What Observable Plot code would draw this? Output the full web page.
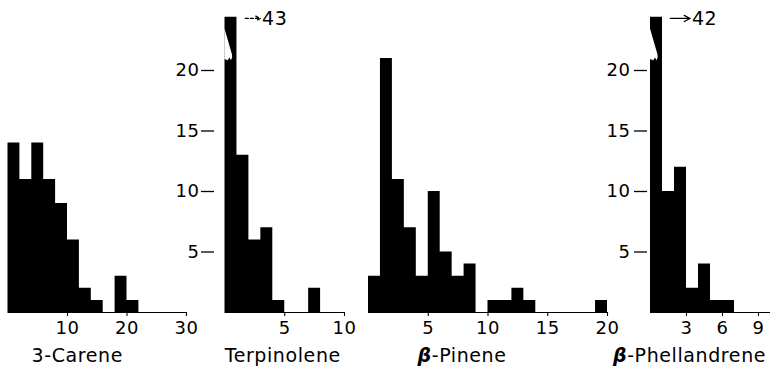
<!DOCTYPE html>
<html><head><meta charset="utf-8">
<script src="https://cdn.jsdelivr.net/npm/d3@7"></script>
<script src="https://cdn.jsdelivr.net/npm/@observablehq/plot@0.6"></script>
<style>
body{margin:0;background:#fff}
#wrap{position:relative;width:773px;height:373px;overflow:hidden;background:#fff}
#wrap svg{position:absolute;left:0;top:0;background:transparent}
</style></head><body><div id="wrap"></div>
<script>
// ---- data (counts per bin, bins start at 0) ----
const careneCounts = [14, 11, 14, 11, 9, 6, 2, 1, 0, 3, 1];
const terpinoleneCounts = [43, 13, 6, 7, 1, 0, 0, 2];
const pineneCounts = [3, 21, 11, 7, 3, 10, 5, 3, 4, 0, 1, 1, 2, 1, 0, 0, 0, 0, 0, 1];
const phellandreneCounts = [42, 10, 12, 2, 4, 1, 1];
const binWidths = [2, 1, 1, 1];
const panelNames = ["3-Carene", "Terpinolene", "β-Pinene", "β-Phellandrene"];
const xDomains = [[0, 30], [0, 10], [0, 20], [0, 10]];
const xTickValues = [[10, 20, 30], [5, 10], [5, 10, 15, 20], [3, 6, 9]];
const yTickValues = [5, 10, 15, 20];
const yTop = 24.4;

// ---- layout / style ----
const W = 773, H = 373, baseY = 312, pxPerUnit = 12.1;
const layout = [
  {left: 7.5, right: 186, yAxis: false, nameDx: -20},
  {left: 224.5, right: 344, yAxis: true, yDx: -10.5, yPad: 2, nameDx: -2},
  {left: 368, right: 607, yAxis: false, nameDx: -26},
  {left: 650, right: 770, yAxis: true, yDx: -3, yPad: 4, nameDx: -21}
];
const allCounts = [careneCounts, terpinoleneCounts, pineneCounts, phellandreneCounts];
// broken bars (count off scale) with arrow annotation
const breaks = [
  {panel: 1, label: "43", ax1: 1.7, ax2: 2.95, dash: "3,2"},
  {panel: 3, label: "42", ax1: 1.65, ax2: 3.3, dash: null}
];
const breakShape = [[-0.05, 23.5], [0.58, 21.35], [0.6, 21.1], [0.5, 20.85], [0.38, 21.08], [0.22, 20.85], [-0.05, 20.95]];

const wrap = document.getElementById("wrap");
allCounts.forEach((counts, i) => {
  const L = layout[i];
  const bw = binWidths[i];
  const steps = counts.map((c, k) => ({x: k * bw, y: Math.min(c, yTop)}));
  steps.push({x: counts.length * bw, y: Math.min(counts[counts.length - 1], yTop)});
  const marks = [
    Plot.areaY(steps, {x: "x", y: "y", curve: "step-after", fill: "black"}),
    Plot.ruleY([0], {stroke: "black", strokeWidth: 1.1}),
    Plot.axisX({ticks: xTickValues[i], tickSize: 4, tickPadding: 5, tickFormat: d => String(d), fontSize: 18, strokeWidth: 1.1, label: null}),
    Plot.text([panelNames[i]], {frameAnchor: "bottom", text: d => d, dx: L.nameDx, dy: 36, lineAnchor: "top", fontSize: 19})
  ];
  if (L.yAxis) {
    marks.push(Plot.axisY({ticks: yTickValues, tickSize: 13, tickPadding: L.yPad, dx: L.yDx, fontSize: 18, strokeWidth: 1.3, label: null, tickFormat: d => String(d)}));
  } else {
    marks.push(Plot.axisY({ticks: [], label: null}));
  }
  breaks.filter(b => b.panel === i).forEach(b => {
    const pts = breakShape.map(([fx, y]) => ({x: fx * bw, y}));
    marks.push(Plot.line(pts, {x: "x", y: "y", fill: "white", stroke: "none"}));
    marks.push(Plot.arrow([b], {x1: "ax1", x2: "ax2", y1: yTop - 0.1, y2: yTop - 0.1, stroke: "black", strokeWidth: 1.3, headLength: 8, headAngle: 55, strokeDasharray: b.dash}));
    marks.push(Plot.text([b], {x: d => d.ax2 + 0.15, y: yTop - 0.1, text: "label", textAnchor: "start", fontSize: 19}));
  });
  const chart = Plot.plot({
    width: W, height: H,
    marginLeft: L.left, marginRight: W - L.right,
    marginTop: baseY - yTop * pxPerUnit, marginBottom: H - baseY,
    x: {domain: xDomains[i]},
    y: {domain: [0, yTop]},
    style: {fontFamily: "DejaVu Sans", fontSize: "18px", background: "transparent", color: "black", letterSpacing: "0.6px", overflow: "visible"},
    marks
  });
  wrap.appendChild(chart);
});
// bold-italic beta in names
d3.selectAll("#wrap text").each(function() {
  const t = this.textContent;
  if (t.startsWith("β")) {
    const sel = d3.select(this);
    sel.text(null);
    sel.append("tspan").attr("font-weight", "bold").attr("font-style", "italic").text("β");
    sel.append("tspan").text(t.slice(1));
  }
});
</script></body></html>
